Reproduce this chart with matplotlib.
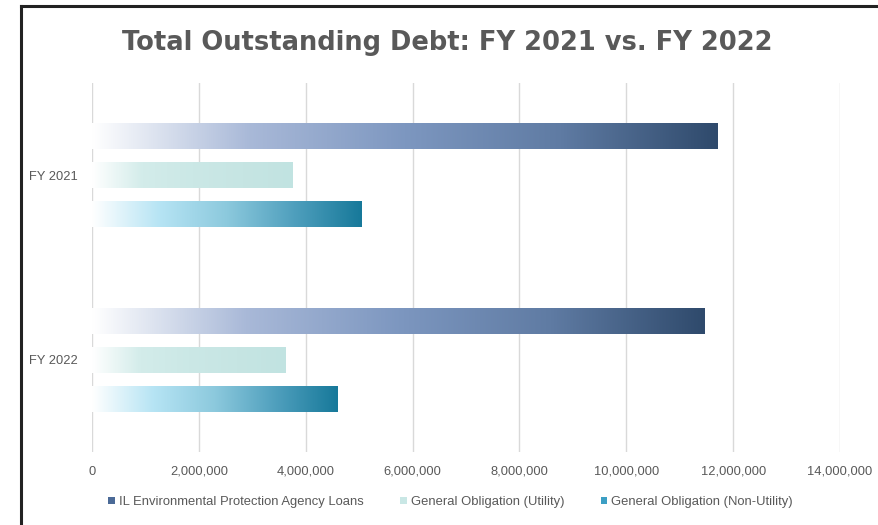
import matplotlib
matplotlib.use('Agg')
import matplotlib.pyplot as plt
from matplotlib.colors import LinearSegmentedColormap
from matplotlib.lines import Line2D
from matplotlib.patches import Patch
from matplotlib.ticker import FuncFormatter
import numpy as np

# data
categories = ['FY 2021', 'FY 2022']
series_names = ['IL Environmental Protection Agency Loans',
                'General Obligation (Utility)',
                'General Obligation (Non-Utility)']
epa_loans = [11710000, 11470000]
go_utility = [3750000, 3620000]
go_non_utility = [5040000, 4590000]
x_ticks = [0, 2000000, 4000000, 6000000, 8000000, 10000000, 12000000, 14000000]

# gradient ramps, white on the left to full colour on the right
ramps = [
  ['#ffffff', '#a9b9d8', '#7d97c0', '#5f7ba3', '#2f4a6c'],
  ['#ffffff', '#d3ecea', '#cbe8e6', '#c6e5e3', '#c1e3e1'],
  ['#ffffff', '#b6e4f4', '#8cc9dd', '#4f9fbd', '#17799a'],
]
legend_colors = ['#4b6a97', '#c9e7e5', '#3c9fc4']

dpi = 100
fig = plt.figure(figsize=(879 / dpi, 525 / dpi), dpi=dpi)
fig.patch.set_facecolor('white')
ax = fig.add_axes([92 / 879, 1 - 452 / 525, 748 / 879, 369 / 525])

font = 'Liberation Sans'
txt_color = '#595959'

y = np.arange(len(categories))
h = 0.141
offsets = [-0.212, 0.0, 0.212]
all_series = [epa_loans, go_utility, go_non_utility]

for k, vals in enumerate(all_series):
  cmap = LinearSegmentedColormap.from_list('r%d' % k, ramps[k])
  bars = ax.barh(y + offsets[k], vals, height=h, color='none', edgecolor='none', zorder=2)
  grad = np.linspace(0, 1, 256).reshape(1, -1)
  for bar, v in zip(bars, vals):
    b = bar.get_bbox()
    im = ax.imshow(grad, cmap=cmap, aspect='auto', interpolation='bicubic',
                   extent=(b.x0, b.x1, b.y1, b.y0), zorder=2)
    im.set_clip_path(bar)

ax.set_xlim(0, 14000000)
ax.set_ylim(1.5, -0.5)
ax.set_xticks(x_ticks)
ax.xaxis.set_major_formatter(FuncFormatter(lambda v, p: '{:,.0f}'.format(v)))
ax.set_yticks(y)
ax.set_yticklabels(categories)
ax.tick_params(length=0, colors=txt_color, labelsize=9.3)
ax.tick_params(axis='x', pad=10)
ax.tick_params(axis='y', pad=10)
for lab in ax.get_xticklabels() + ax.get_yticklabels():
  lab.set_fontfamily(font)
for s in ax.spines.values():
  s.set_visible(False)
ax.xaxis.grid(True, color='#d9d9d9', lw=1)
ax.set_axisbelow(True)

fig.text(0.509, 1 - 43 / 525, 'Total Outstanding Debt: FY 2021 vs. FY 2022',
         ha='center', va='center', fontsize=18.5, fontweight='bold',
         family='DejaVu Sans', color='#595959')

handles = [Patch(facecolor=c, edgecolor='none') for c in legend_colors]
leg = fig.legend(handles, series_names, loc='center', bbox_to_anchor=(0.5125, 1 - 502 / 525),
                 ncol=3, frameon=False, handlelength=0.5, handleheight=0.5,
                 handletextpad=0.3, columnspacing=2.8,
                 prop={'family': font, 'size': 9.4})
for t in leg.get_texts():
  t.set_color(txt_color)

# black frame at top and left, as in the screenshot
fig.add_artist(Line2D([21 / 879, 1], [1 - 6 / 525, 1 - 6 / 525], color='#222222', lw=2.2,
                      transform=fig.transFigure))
fig.add_artist(Line2D([21 / 879, 21 / 879], [0, 1 - 6 / 525], color='#222222', lw=2.2,
                      transform=fig.transFigure))

fig.savefig('out.png', dpi=dpi)
